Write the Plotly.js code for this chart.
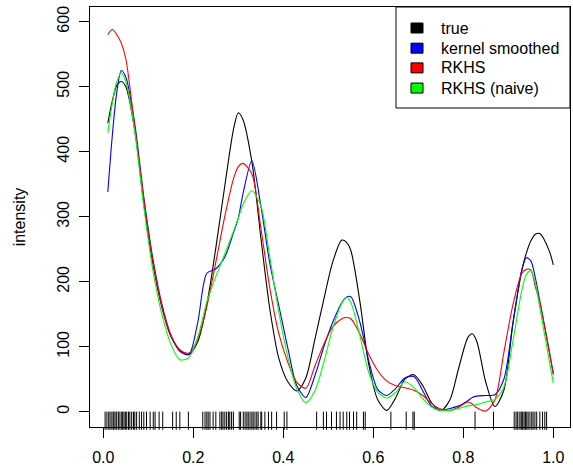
<!DOCTYPE html>
<html>
<head>
<meta charset="utf-8">
<script src="https://cdn.plot.ly/plotly-3.0.1.min.js"></script>
<style>html,body{margin:0;padding:0;background:#fff;}#chart{width:573px;height:466px;}</style>
</head>
<body>
<div id="chart"></div>
<script>
// ---- data ----
const xGrid = [0.01,0.02,0.03,0.04,0.05,0.07,0.09,0.11,0.13,0.15,0.17,0.19,0.21,0.23,0.25,0.27,0.29,0.30,0.31,0.33,0.35,0.37,0.39,0.41,0.43,0.45,0.47,0.49,0.51,0.53,0.54,0.55,0.57,0.59,0.61,0.63,0.65,0.67,0.69,0.71,0.73,0.75,0.77,0.79,0.81,0.82,0.83,0.85,0.87,0.89,0.91,0.93,0.94,0.95,0.96,0.97,0.99,1.00];
const trueVals = [444,478,502,508,500, 433,320,228,161,116,95,88,108,165,252,348,437, 460, 450,385,268,158,82,46,32,52,111,173,231,264, 261, 248,170,72,18,2,22,50,57,40,13,2,18,68,114, 120, 108,45,8,33,135,218, 244,263,273,274,249,226];
const kernelVals = [338,425,492,525,515, 442,330,236,166,118,93,88,138,213,220,238,277, 298, 334,386,317,228,163,98,40,22,55,100,138,168, 176, 177,138,78,34,25,36,52,54,32,8,2,5,9,17, 22, 24,25,26,50,136,218, 237,232,206,170,97,57];
const rkhsVals = [580,588,580,567,543, 437,326,232,163,118,95,90,112,162,230,301,360, 377, 382,366,283,190,120,76,45,36,70,104,131,143, 145, 143,120,88,63,47,40,37,33,25,12,4,2,7,15, 12, 6,1,18,91,164,213, 219,218,192,168,95,59];
const naiveVals = [429,475,508,521,508, 430,315,218,150,104,80,83,115,169,208,243,279, 298, 318,340,317,238,153,84,35,14,32,76,129,167, 176, 168,117,60,30,21,30,46,37,20,7,2,2,5,9, 10, 11,15,19,38,108,187, 211,217,198,160,82,44];
const rugX = [0.004,0.008,0.012,0.015,0.019,0.022,0.024,0.028,0.030,0.034,0.037,0.041,0.043,0.046,0.049,0.052,0.056,0.059,0.063,0.067,0.070,0.074,0.080,0.085,0.090,0.096,0.104,0.111,0.115,0.124,0.132,0.154,0.162,0.170,0.189,
  0.221,0.226,0.230,0.233,0.237,0.244,0.250,0.259,0.263,0.266,0.270,0.274,0.278,0.281,0.285,0.289,0.302,0.305,0.311,0.315,0.319,0.322,0.326,0.330,0.333,0.337,0.341,0.344,0.350,0.352,0.359,0.367,0.374,0.385,0.402,0.408,
  0.474,0.489,0.496,0.507,0.518,0.526,0.533,0.541,0.547,0.556,0.563,0.578,0.582,
  0.639,0.673,0.688,0.691,0.826,0.867,0.913,0.917,0.920,0.924,0.928,0.930,0.932,0.935,0.938,0.941,0.944,0.948,0.952,0.955,0.959,0.963,0.970,0.976,0.981,0.985];
const seriesNames = ['true','kernel smoothed','RKHS','RKHS (naive)'];
const seriesColors = ['#000000','#0000FF','#FF0000','#00FF00'];
const xTicks = [0,0.2,0.4,0.6,0.8,1.0];
const xTickText = ['0.0','0.2','0.4','0.6','0.8','1.0'];
const yTicks = [0,100,200,300,400,500,600];

// ---- chart ----
const FONT = 'Liberation Sans, Arial, Helvetica, sans-serif';
const allVals = [trueVals, kernelVals, rkhsVals, naiveVals];
const traces = allVals.map((v, i) => ({
  x: xGrid, y: v, type: 'scatter', mode: 'lines', name: seriesNames[i],
  line: {color: seriesColors[i], width: 1.1, shape: 'spline', smoothing: 0.8},
  showlegend: false, hoverinfo: 'skip'
}));
const yRange = [-23.5, 622.6];
const rugLevel = yRange[0] + (yRange[1]-yRange[0]) * 0.015;
traces.push({
  x: rugX, y: rugX.map(() => rugLevel), type: 'scatter', mode: 'markers',
  marker: {symbol: 'line-ns-open', size: 13, color: '#000', line: {color: '#000', width: 1}},
  showlegend: false, hoverinfo: 'skip', cliponaxis: false
});

// manual legend (R style)
const shapes = [{type: 'rect', xref: 'paper', yref: 'paper', x0: 0.6375, x1: 1, y0: 0.7595, y1: 1,
  line: {color: '#000', width: 1}, fillcolor: 'rgba(0,0,0,0)'}];
const annotations = [];
const legY = [0.950, 0.902, 0.855, 0.807];
seriesNames.forEach((n, i) => {
  shapes.push({type: 'rect', xref: 'paper', yref: 'paper',
    x0: (411 - 90) / 480, x1: (423 - 90) / 480, y0: legY[i] - 5 / 420, y1: legY[i] + 5 / 420,
    fillcolor: seriesColors[i], line: {color: '#000', width: 1}});
  annotations.push({xref: 'paper', yref: 'paper', x: (439 - 90) / 480, y: legY[i],
    xanchor: 'left', yanchor: 'middle', text: n, showarrow: false,
    font: {family: FONT, size: 16, color: '#000'}});
});

const layout = {
  width: 573, height: 466,
  margin: {l: 90, r: 3, t: 7, b: 39, pad: 0},
  paper_bgcolor: '#fff', plot_bgcolor: '#fff',
  font: {family: FONT, size: 16, color: '#000'},
  showlegend: false,
  xaxis: {range: [-0.0296, 1.037], tickvals: xTicks, ticktext: xTickText, ticks: 'outside', ticklen: 10,
    tickcolor: '#000', showgrid: false, zeroline: false, showline: true, mirror: true, linecolor: '#000', linewidth: 1,
    tickfont: {family: FONT, size: 16}, ticklabelstandoff: 6},
  yaxis: {range: yRange, tickvals: yTicks, ticks: 'outside', ticklen: 10, tickangle: -90,
    tickcolor: '#000', showgrid: false, zeroline: false, showline: true, mirror: true, linecolor: '#000', linewidth: 1,
    tickfont: {family: FONT, size: 16}, ticklabelstandoff: 4,
    title: {text: 'intensity', font: {family: FONT, size: 16}, standoff: 24}},
  shapes: shapes, annotations: annotations
};
Plotly.newPlot('chart', traces, layout, {displayModeBar: false, staticPlot: true});
</script>
</body>
</html>
